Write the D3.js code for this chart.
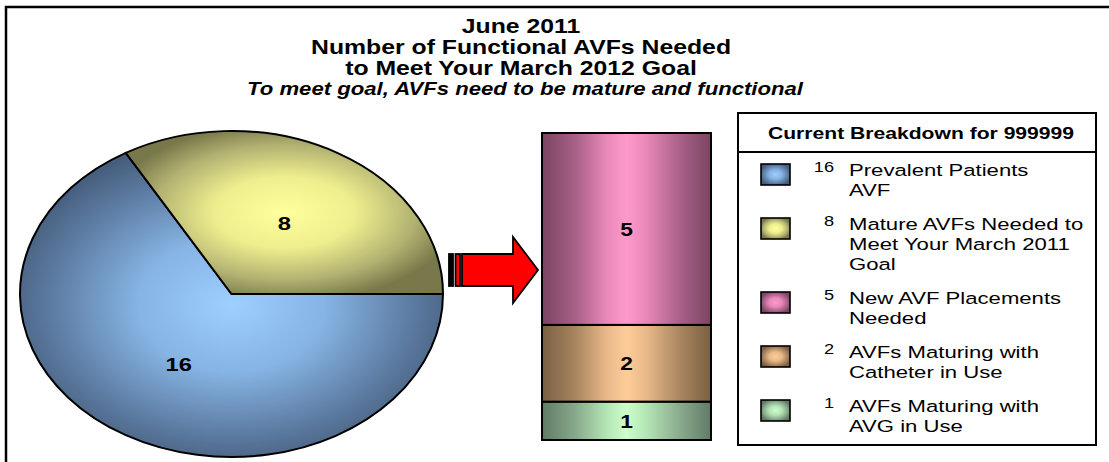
<!DOCTYPE html>
<meta charset="utf-8">
<title>AVFs Needed</title>
<script src="https://d3js.org/d3.v7.min.js"></script>
<style>
  body { margin: 0; background: #fff; }
  text { font-family: "Liberation Sans", Arial, sans-serif; fill: #000; }
</style>
<body>
<div id="chart"></div>
<script>
// data
var titleLines = ["June 2011", "Number of Functional AVFs Needed", "to Meet Your March 2012 Goal"];
var subTitle = "To meet goal, AVFs need to be mature and functional";
var pieValues = [16, 8];          // prevalent AVF, mature AVFs needed
var barValues = [1, 2, 5];        // bottom to top
var legendTitle = "Current Breakdown for 999999";
var legendValues = [16, 8, 5, 2, 1];
var legendLines = [
  ["Prevalent Patients", "AVF"],
  ["Mature AVFs Needed to", "Meet Your March 2011", "Goal"],
  ["New AVF Placements", "Needed"],
  ["AVFs Maturing with", "Catheter in Use"],
  ["AVFs Maturing with", "AVG in Use"]
];
var legendKeys = ["blue", "yellow", "pink", "tan", "green"];
var pieKeys = ["blue", "yellow"];
var barKeys = ["green", "tan", "pink"];

// colours: light centre, dark edge
var shades = {
  blue:   ["#9dcfff", "#86b4e4", "#5f7fa6", "#455c7a"],
  yellow: ["#ffff9c", "#eeee8e", "#b2b272", "#78784a"],
  pink:   ["#ff99cc", "#e888b8", "#a86088", "#7a4560"],
  tan:    ["#ffcc99", "#e8b888", "#a88560", "#7a6042"],
  green:  ["#ccffcc", "#b4e4b4", "#88aa8c", "#607a66"]
};

var W = 1109, H = 462;
var svg = d3.select("#chart").append("svg").attr("width", W).attr("height", H);
var defs = svg.append("defs");

Object.keys(shades).forEach(function (k) {
  var s = shades[k];
  var rg = defs.append("radialGradient").attr("id", "rad-" + k)
    .attr("cx", "50%").attr("cy", "50%").attr("r", "55%");
  [[0, s[0]], [0.4, s[1]], [0.75, s[2]], [1, s[3]]].forEach(function (p) {
    rg.append("stop").attr("offset", p[0]).attr("stop-color", p[1]);
  });
  var lg = defs.append("linearGradient").attr("id", "lin-" + k)
    .attr("x1", 0).attr("x2", 1).attr("y1", 0).attr("y2", 0);
  [[0, s[3]], [0.2, s[2]], [0.38, s[1]], [0.5, s[0]], [0.62, s[1]], [0.82, s[2]], [1, s[3]]].forEach(function (p) {
    lg.append("stop").attr("offset", p[0]).attr("stop-color", p[1]);
  });
});

// text drawn a bit wider, like the original
function wideText(parent, x, y, str, size, sx, opts) {
  opts = opts || {};
  var g = parent.append("g").attr("transform", "translate(" + x + "," + y + ") scale(" + sx + ",1)");
  return g.append("text")
    .attr("text-anchor", opts.anchor || "middle")
    .attr("dy", opts.dy || null)
    .style("font-size", size + "px")
    .style("font-weight", opts.bold ? "bold" : "normal")
    .style("font-style", opts.italic ? "italic" : "normal")
    .text(str);
}

// outer frame (top and left edges only are visible)
svg.append("path").attr("d", "M6,462V7H1109").attr("fill", "none").attr("stroke", "#000").attr("stroke-width", 2.5);

// titles
var titleX = 521;
titleLines.forEach(function (t, i) {
  wideText(svg, titleX, 33 + i * 21, t, 20, 1.24, { bold: true });
});
wideText(svg, titleX + 4, 95, subTitle, 18, 1.23, { bold: true, italic: true });

// pie, drawn as a circle and squashed into an ellipse
var pcx = 231.5, pcy = 294, prx = 211.5, pry = 163;
var pie = d3.pie().sort(null).startAngle(Math.PI / 2).endAngle(Math.PI / 2 + 2 * Math.PI);
var arc = d3.arc().innerRadius(0).outerRadius(1);
var arcs = pie(pieValues);
var pieG = svg.append("g").attr("transform", "translate(" + pcx + "," + pcy + ") scale(" + prx + "," + pry + ")");
pieG.selectAll("path").data(arcs).enter().append("path")
  .attr("d", arc)
  .attr("fill", function (d, i) { return "url(#rad-" + pieKeys[i] + ")"; })
  .attr("stroke", "#000").attr("stroke-width", 2)
  .attr("stroke-linejoin", "round")
  .attr("vector-effect", "non-scaling-stroke");
arcs.forEach(function (d) {
  var c = arc.centroid(d);
  wideText(svg, pcx + c[0] * prx, pcy + c[1] * pry, d.value, 19, 1.25, { bold: true, dy: "0.36em" });
});

// stacked bar
var y = d3.scaleLinear().domain([0, d3.sum(barValues)]).range([440, 133]);
var bx0 = 542, bx1 = 711;
var stack = [], acc = 0;
barValues.forEach(function (v, i) { stack.push({ v: v, y0: acc, y1: acc + v, key: barKeys[i] }); acc += v; });
svg.append("g").selectAll("rect").data(stack).enter().append("rect")
  .attr("x", bx0).attr("width", bx1 - bx0)
  .attr("y", function (d) { return y(d.y1); })
  .attr("height", function (d) { return y(d.y0) - y(d.y1); })
  .attr("fill", function (d) { return "url(#lin-" + d.key + ")"; })
  .attr("stroke", "#000").attr("stroke-width", 2);
stack.forEach(function (d) {
  wideText(svg, (bx0 + bx1) / 2, (y(d.y0) + y(d.y1)) / 2, d.v, 19, 1.2, { bold: true, dy: "0.36em" });
});

// arrow between pie and bar
var ay = 270, aTip = bx0 - 4;
var ag = svg.append("g").attr("stroke", "#000").attr("stroke-width", 1.8).attr("stroke-linejoin", "miter");
ag.append("rect").attr("x", 449).attr("y", ay - 16).attr("width", 4).attr("height", 32).attr("fill", "#000");
ag.append("rect").attr("x", 455.5).attr("y", ay - 16).attr("width", 4.5).attr("height", 32).attr("fill", "#ff0000");
ag.append("path")
  .attr("d", "M462," + (ay - 16) + "H513V" + (ay - 33) + "L" + aTip + "," + ay + "L513," + (ay + 33) + "V" + (ay + 16) + "H462Z")
  .attr("fill", "#ff0000");

// legend box
var lx0 = 738, lx1 = 1096, ly0 = 113, ly1 = 445;
svg.append("rect").attr("x", lx0).attr("y", ly0).attr("width", lx1 - lx0).attr("height", ly1 - ly0)
  .attr("fill", "#fff").attr("stroke", "#000").attr("stroke-width", 2);
svg.append("line").attr("x1", lx0).attr("x2", lx1).attr("y1", 152).attr("y2", 152)
  .attr("stroke", "#000").attr("stroke-width", 2);
wideText(svg, (lx0 + lx1) / 2 + 4, 139, legendTitle, 16, 1.32, { bold: true });

var base = 176;
legendValues.forEach(function (v, i) {
  var k = legendKeys[i];
  svg.append("rect").attr("x", 761).attr("y", base - 12).attr("width", 29).attr("height", 21)
    .attr("fill", "url(#rad-" + k + ")").attr("stroke", "#000").attr("stroke-width", 1.6);
  wideText(svg, 834, base - 4, v, 14, 1.3, { anchor: "end" });
  legendLines[i].forEach(function (line, j) {
    wideText(svg, 849, base + j * 20, line, 16.5, 1.34, { anchor: "start" });
  });
  base += legendLines[i].length * 20 + 14;
});
</script>
</body>
